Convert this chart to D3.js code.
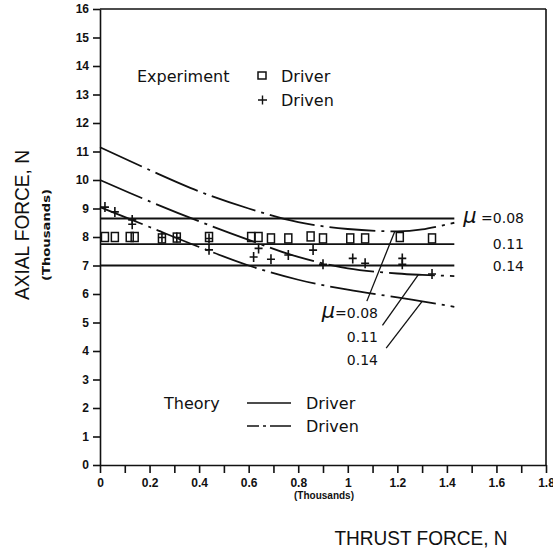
<!DOCTYPE html>
<meta charset="utf-8">
<script src="https://d3js.org/d3.v7.min.js"></script>
<style>
  body { margin: 0; background: #fff; }
  text { fill: #111; }
</style>
<div id="chart"></div>
<script>
  // thrust force (thousands N) vs axial force (thousands N)
  var muLabels = ["0.08", "0.11", "0.14"];

  // theory, driver: flat lines, one per mu
  var driverTheory = [8.65, 7.75, 7.0];
  var theoryXRange = [0, 1.43];

  // theory, driven: curves sampled at these thrust values
  var drivenX = [0, 0.2, 0.4, 0.6, 0.8, 1.0, 1.2, 1.3, 1.43];
  var drivenTheory = [
    [11.15, 10.35, 9.6, 9.0, 8.52, 8.28, 8.2, 8.27, 8.5],   // mu 0.08
    [10.0, 9.25, 8.55, 7.9, 7.3, 6.9, 6.72, 6.67, 6.63],    // mu 0.11
    [9.05, 8.35, 7.65, 7.0, 6.5, 6.15, 5.88, 5.74, 5.55]    // mu 0.14
  ];

  // experiment, driver (squares)
  var driverExpX = [0.02, 0.06, 0.12, 0.14, 0.25, 0.31, 0.44, 0.61, 0.64, 0.69, 0.76, 0.85, 0.90, 1.01, 1.07, 1.21, 1.34];
  var driverExpY = [8.0, 8.0, 8.0, 8.0, 7.95, 7.98, 8.0, 8.0, 8.0, 7.95, 7.95, 8.02, 7.95, 7.95, 7.95, 8.0, 7.95];

  // experiment, driven (plus signs)
  var drivenExpX = [0.02, 0.06, 0.13, 0.13, 0.25, 0.31, 0.44, 0.44, 0.62, 0.64, 0.69, 0.76, 0.86, 0.90, 1.02, 1.07, 1.22, 1.22, 1.34];
  var drivenExpY = [9.05, 8.88, 8.6, 8.45, 7.98, 7.98, 7.95, 7.55, 7.3, 7.6, 7.22, 7.37, 7.54, 7.04, 7.25, 7.08, 7.25, 7.04, 6.7];

  var xTicks = d3.range(0, 19).map(function (i) { return i / 10; });
  var yTicks = d3.range(0, 17);

  var W = 553, H = 552;
  var margin = { top: 9, right: 7, bottom: 87, left: 100 };
  var width = W - margin.left - margin.right,
    height = H - margin.top - margin.bottom;

  var svg = d3.select("#chart").append("svg")
    .attr("width", W).attr("height", H)
    .style("font-family", "'DejaVu Sans', sans-serif");

  var g = svg.append("g")
    .attr("transform", "translate(" + margin.left + "," + margin.top + ")");

  var x = d3.scaleLinear().domain([0, 1.8]).range([0, width]);
  var y = d3.scaleLinear().domain([0, 16]).range([height, 0]);

  var ink = "#111";
  var narrow = "'Liberation Sans', Arial, sans-serif";

  // frame top and right
  g.append("line").attr("x1", 0).attr("x2", width).attr("y1", 0).attr("y2", 0)
    .attr("stroke", ink).attr("stroke-width", 1.6);
  g.append("line").attr("x1", width).attr("x2", width).attr("y1", 0).attr("y2", height)
    .attr("stroke", ink).attr("stroke-width", 1.6);

  // axes
  var yAxis = g.append("g")
    .call(d3.axisLeft(y).tickValues(yTicks).tickSize(7).tickSizeOuter(0).tickPadding(4));
  var xAxis = g.append("g")
    .attr("transform", "translate(0," + height + ")")
    .call(d3.axisBottom(x).tickValues(xTicks).tickSize(8).tickSizeOuter(0).tickPadding(5)
      .tickFormat(function (d) {
        var r = Math.round(d * 10);
        return r % 2 === 0 ? String(r / 10) : "";
      }));

  [xAxis, yAxis].forEach(function (a) {
    a.selectAll("path,line").attr("stroke", ink).attr("stroke-width", 1.6);
    a.selectAll("text")
      .style("font-family", narrow)
      .style("font-weight", "bold")
      .style("font-size", "12px")
      .attr("fill", ink);
  });

  // axis titles (squeezed to the narrow lettering of the original)
  svg.append("text")
    .attr("transform", "translate(29,225) rotate(-90)")
    .attr("text-anchor", "middle")
    .attr("textLength", 150).attr("lengthAdjust", "spacingAndGlyphs")
    .style("font-family", narrow)
    .style("font-size", "21px")
    .text("AXIAL FORCE, N");
  svg.append("text")
    .attr("transform", "translate(50,235) rotate(-90)")
    .attr("text-anchor", "middle")
    .attr("textLength", 92).attr("lengthAdjust", "spacingAndGlyphs")
    .style("font-family", "'DejaVu Sans', sans-serif")
    .style("font-weight", "bold")
    .style("font-size", "11px")
    .text("(Thousands)");
  svg.append("text")
    .attr("x", 324).attr("y", 499)
    .attr("text-anchor", "middle")
    .style("font-family", narrow)
    .style("font-weight", "bold")
    .style("font-size", "10px")
    .text("(Thousands)");
  svg.append("text")
    .attr("x", 421).attr("y", 545)
    .attr("text-anchor", "middle")
    .attr("textLength", 173).attr("lengthAdjust", "spacingAndGlyphs")
    .style("font-family", narrow)
    .style("font-size", "21px")
    .text("THRUST FORCE, N");

  var dashDot = "46,6,3,6";

  // theory driver lines
  g.selectAll(".driver-theory")
    .data(driverTheory)
    .enter().append("line")
    .attr("x1", x(theoryXRange[0])).attr("x2", x(theoryXRange[1]))
    .attr("y1", function (d) { return y(d); })
    .attr("y2", function (d) { return y(d); })
    .attr("stroke", ink).attr("stroke-width", 1.8);

  // theory driven curves
  var line = d3.line()
    .x(function (d) { return x(d[0]); })
    .y(function (d) { return y(d[1]); })
    .curve(d3.curveCatmullRom);
  g.selectAll(".driven-theory")
    .data(drivenTheory)
    .enter().append("path")
    .attr("d", function (vals) {
      return line(vals.map(function (v, i) { return [drivenX[i], v]; }));
    })
    .attr("fill", "none")
    .attr("stroke", ink).attr("stroke-width", 1.8)
    .attr("stroke-dasharray", dashDot);

  // experiment driver squares
  g.selectAll(".sq")
    .data(driverExpX)
    .enter().append("rect")
    .attr("x", function (d) { return x(d) - 3.5; })
    .attr("y", function (d, i) { return y(driverExpY[i]) - 4.5; })
    .attr("width", 7).attr("height", 9)
    .attr("fill", "none").attr("stroke", ink).attr("stroke-width", 1.5);

  // experiment driven pluses
  g.selectAll(".pl")
    .data(drivenExpX)
    .enter().append("path")
    .attr("transform", function (d, i) {
      return "translate(" + x(d) + "," + y(drivenExpY[i]) + ")";
    })
    .attr("d", "M-4,0H4M0,-5V5")
    .attr("stroke", ink).attr("stroke-width", 1.6);

  // mu labels at right of the driver lines
  var rightLab = svg.append("g").style("font-size", "14px");
  driverTheory.forEach(function (v, i) {
    var t = rightLab.append("text")
      .attr("x", 524).attr("y", margin.top + y(v) + 5)
      .attr("text-anchor", "end");
    if (i === 0) {
      t.append("tspan").style("font-size", "21px").style("font-style", "italic").text("\u03bc");
      t.append("tspan").text(" =" + muLabels[i]);
    } else {
      t.text(muLabels[i]);
    }
  });

  // mu labels with leader lines for the driven curves
  var leaders = [
    { lx: 1.077, ly: 5.75, cx: 1.19, cy: 8.2 },
    { lx: 1.14, ly: 4.9, cx: 1.285, cy: 6.68 },
    { lx: 1.155, ly: 4.1, cx: 1.30, cy: 5.74 }
  ];
  var leadLab = g.append("g").style("font-size", "14px");
  leaders.forEach(function (L, i) {
    leadLab.append("line")
      .attr("x1", x(L.lx)).attr("y1", y(L.ly))
      .attr("x2", x(L.cx)).attr("y2", y(L.cy))
      .attr("stroke", ink).attr("stroke-width", 1.3);
    var t = leadLab.append("text")
      .attr("x", 278).attr("y", y(L.ly) + 17)
      .attr("text-anchor", "end");
    if (i === 0) {
      t.append("tspan").style("font-size", "21px").style("font-style", "italic").text("\u03bc");
      t.append("tspan").text("=" + muLabels[i]);
    } else {
      t.text(muLabels[i]);
    }
  });

  // legends
  var leg = svg.append("g").style("font-size", "16px");
  leg.append("text").attr("x", 137).attr("y", 82).text("Experiment");
  leg.append("rect").attr("x", 258).attr("y", 72).attr("width", 8).attr("height", 7)
    .attr("fill", "none").attr("stroke", ink).attr("stroke-width", 1.5);
  leg.append("text").attr("x", 281).attr("y", 82).text("Driver");
  leg.append("path").attr("d", "M258,100H267M262.5,95.5V104.5")
    .attr("stroke", ink).attr("stroke-width", 1.4);
  leg.append("text").attr("x", 281).attr("y", 106).text("Driven");

  leg.append("text").attr("x", 164).attr("y", 409).text("Theory");
  leg.append("line").attr("x1", 247).attr("x2", 291).attr("y1", 403).attr("y2", 403)
    .attr("stroke", ink).attr("stroke-width", 1.4);
  leg.append("text").attr("x", 306).attr("y", 409).text("Driver");
  leg.append("line").attr("x1", 247).attr("x2", 291).attr("y1", 426).attr("y2", 426)
    .attr("stroke", ink).attr("stroke-width", 1.4)
    .attr("stroke-dasharray", "12,4,3,4,30");
  leg.append("text").attr("x", 306).attr("y", 432).text("Driven");
</script>
